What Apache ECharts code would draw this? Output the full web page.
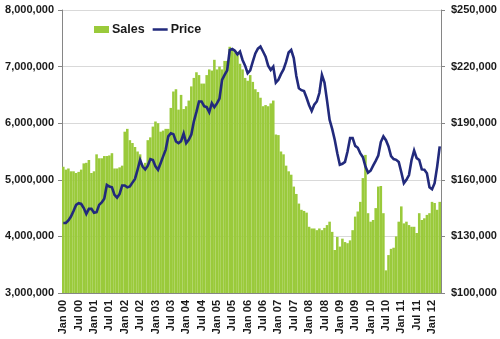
<!DOCTYPE html>
<html><head><meta charset="utf-8">
<script src="https://cdn.jsdelivr.net/npm/echarts@6/dist/echarts.min.js"></script>
<style>html,body{margin:0;padding:0;background:#fff}#c{width:500px;height:339px}</style>
</head><body><div id="c"></div>
<script>
const monthNames = ['Jan','Feb','Mar','Apr','May','Jun','Jul','Aug','Sep','Oct','Nov','Dec'];
const years = ['00','01','02','03','04','05','06','07','08','09','10','11','12'];
const monthCount = 148;
const categories = [];
for (let k = 0; k < monthCount; k++) {
  categories.push(monthNames[k % 12] + ' ' + years[Math.floor(k / 12)]);
}
const salesTicks = [3000000, 4000000, 5000000, 6000000, 7000000, 8000000];
const priceTicks = [100000, 130000, 160000, 190000, 220000, 250000];

const sales = [
5230000,5180000,5200000,5150000,5150000,5120000,5140000,5180000,5290000,5300000,5350000,5120000,
5150000,5450000,5380000,5380000,5420000,5420000,5430000,5470000,5200000,5200000,5220000,5250000,
5850000,5900000,5700000,5650000,5580000,5500000,5450000,5250000,5300000,5700000,5750000,5940000,
6030000,6000000,5850000,5870000,5900000,5900000,6270000,6560000,6600000,6240000,6500000,6250000,
6300000,6400000,6650000,6800000,6900000,6850000,6700000,6700000,6850000,6950000,6930000,7120000,
6950000,7000000,6950000,7100000,7100000,7350000,7300000,7250000,7200000,7050000,6950000,6800000,
6750000,6850000,6730000,6600000,6550000,6450000,6300000,6320000,6300000,6350000,6400000,5800000,
5790000,5500000,5450000,5250000,5150000,5090000,4880000,4750000,4580000,4470000,4450000,4420000,
4170000,4140000,4140000,4110000,4140000,4110000,4150000,4200000,4260000,4080000,3760000,3990000,
3820000,3960000,3900000,3880000,3930000,4110000,4350000,4440000,4610000,5030000,5440000,4410000,
4260000,4290000,4500000,4880000,4890000,4410000,3400000,3670000,3780000,3800000,4000000,4260000,
4530000,4230000,4260000,4200000,4170000,4170000,4060000,4410000,4290000,4320000,4380000,4410000,
4610000,4590000,4470000,4610000];

const price = [
137100,137100,138500,140500,143500,146700,147600,147200,145000,141900,144600,144600,
142500,142800,146700,148000,150000,157300,156400,156000,152000,150500,152500,157000,
157000,156000,156500,158500,160500,165300,170500,167000,165500,167500,171000,170500,
167100,165300,168800,172400,176000,183000,184700,184200,180300,179400,180500,184500,
179400,181200,184000,191000,196000,201500,201500,199000,198500,195800,200600,198500,
200500,203000,212900,215600,218000,228800,229300,228400,226500,228000,223500,220500,
216500,218000,222600,227000,229500,230600,228000,225300,220500,218200,220000,211500,
213000,216000,218500,222500,227500,228800,224500,215000,208500,207500,207000,203500,
199500,196500,199800,201500,206000,215600,211500,202000,191800,187000,181200,174100,
168000,168500,169500,175000,182100,182100,178000,177000,174000,172000,167000,163800,
164800,167500,170000,172800,180000,183000,181000,177700,172500,171000,170600,169500,
164000,158200,160000,162500,170500,175500,171500,170500,165500,165300,163500,156000,
155000,158200,167000,177700];

function commas(v) {
  return String(v).replace(/\B(?=(\d{3})+(?!\d))/g, ',');
}
const font = 'Arial, "Liberation Sans", sans-serif';
const lineIcon = 'path://M0,0L0.01,0M0,2.2L15,2.2L15,4.8L0,4.8ZM15,7L14.99,7';
const chart = echarts.init(document.getElementById('c'), null, {renderer: 'canvas'});
chart.setOption({
  animation: false,
  backgroundColor: '#ffffff',
  grid: {left: 62, right: 59, top: 10, bottom: 46, containLabel: false},
  legend: {
    left: 94, top: 23, padding: 0, itemWidth: 15, itemHeight: 7, itemGap: 8,
    textStyle: {fontFamily: font, fontWeight: 'bold', fontSize: 12.5, color: '#1a1a1a', padding: [0, 0, 0, -2]},
    data: [{name: 'Sales', icon: 'rect'}, {name: 'Price', icon: lineIcon}]
  },
  xAxis: {
    type: 'category', data: categories, boundaryGap: true,
    axisLine: {lineStyle: {color: '#868686', width: 1}},
    axisTick: {interval: 5, length: 4, lineStyle: {color: '#868686'}},
    axisLabel: {interval: 5, rotate: 90, margin: 7, fontFamily: font, fontWeight: 'bold', fontSize: 11, color: '#1a1a1a'},
    splitLine: {show: false}
  },
  yAxis: [{
    type: 'value', min: salesTicks[0], max: salesTicks[salesTicks.length - 1], interval: 1000000,
    axisLine: {show: true, lineStyle: {color: '#868686'}},
    axisTick: {show: true, length: 4, lineStyle: {color: '#868686'}},
    axisLabel: {margin: 8, fontFamily: font, fontWeight: 'bold', fontSize: 11, color: '#1a1a1a', formatter: v => commas(v)},
    splitLine: {show: true, lineStyle: {color: '#d9d9d9', width: 1}}
  }, {
    type: 'value', min: priceTicks[0], max: priceTicks[priceTicks.length - 1], interval: 30000,
    axisLine: {show: true, lineStyle: {color: '#868686'}},
    axisTick: {show: true, length: 4, lineStyle: {color: '#868686'}},
    axisLabel: {margin: 10, fontFamily: font, fontWeight: 'bold', fontSize: 11, color: '#1a1a1a', formatter: v => '$' + commas(v)},
    splitLine: {show: false}
  }],
  series: [{
    name: 'Sales', type: 'bar', data: sales, yAxisIndex: 0,
    barCategoryGap: '0%', itemStyle: {color: '#9aca3b'}, z: 2
  }, {
    name: 'Price', type: 'line', data: price, yAxisIndex: 1,
    showSymbol: false, symbol: 'none', smooth: false,
    lineStyle: {color: '#222a7c', width: 2.6, join: 'miter'}, itemStyle: {color: '#222a7c'}, z: 3
  }]
});
</script>
</body></html>
